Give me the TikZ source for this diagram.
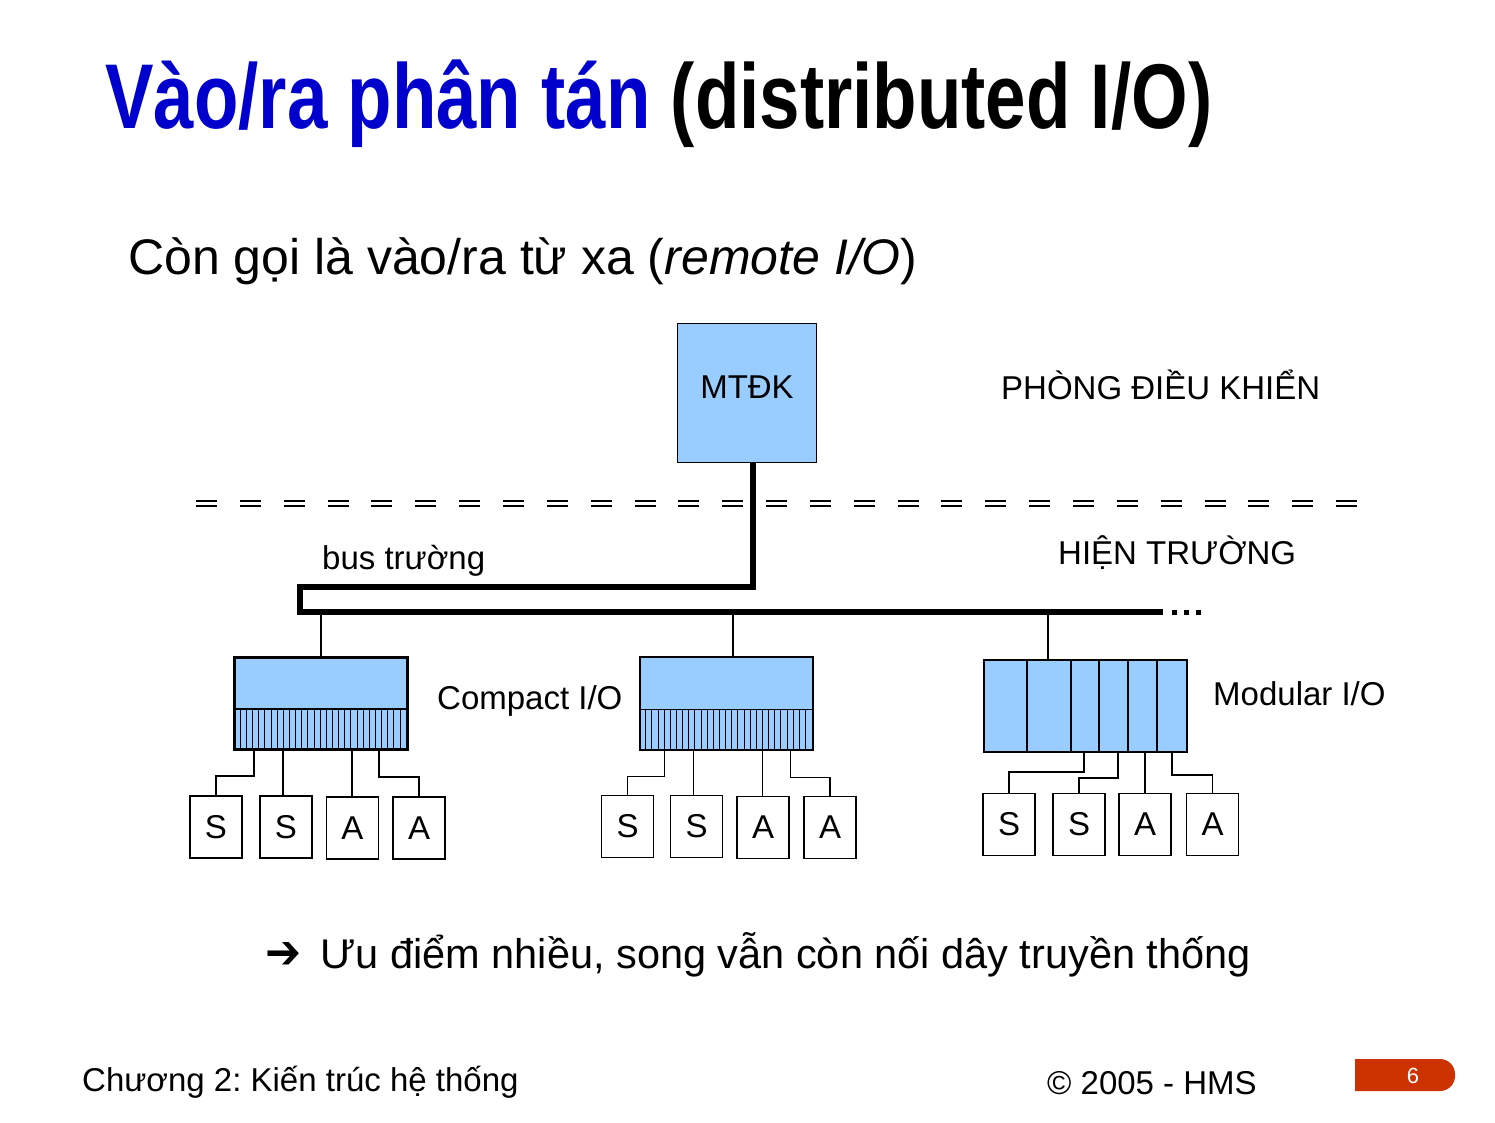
\documentclass[tikz,border=0pt]{standalone}
\usepackage{fontspec}
\usepackage{graphicx}
\setmainfont{Liberation Sans}
\newfontfamily\dejavu{DejaVu Sans}
\newcommand{\myfs}[1]{\fontsize{#1}{#1}\selectfont}
\definecolor{boxblue}{HTML}{99CCFF}
\definecolor{titleblue}{HTML}{0000CC}
\definecolor{badgered}{HTML}{CC3300}
\frenchspacing
\begin{document}
\begin{tikzpicture}[x=1pt,y=-1pt,
  lbl/.style={inner sep=0pt, font={\myfs{33}}},
  sabox/.style={draw, line width=1.3pt, minimum width=52pt, minimum height=62pt, inner sep=0pt, font={\myfs{33}}},
  iobox/.style={draw, line width=1.8pt, fill=boxblue, inner sep=0pt},
  busline/.style={line width=6pt},
  dropline/.style={line width=2.5pt},
  wire/.style={line width=1.3pt},
  sepline/.style={line width=2pt, dash pattern=on 21pt off 22.85pt},
]
\useasboundingbox (0,0) rectangle (1495,1122);

% title
\node[anchor=base west, inner sep=0pt] (title) at (105,128)
  {\resizebox{1107pt}{\height}{\myfs{92}\bfseries{\color{titleblue}Vào/ra phân tán} (distributed I/O)}};

\node[anchor=base west, inner sep=0pt] (sub) at (128,274)
  {\myfs{50}Còn gọi là vào/ra từ xa (\textit{remote I/O})};

% controller
\node[iobox, line width=1.5pt, minimum width=139pt, minimum height=139pt] (mt) at (747,393) {};
\node[lbl] (mtl) at (747,387.5) {MTĐK};
\node[lbl, anchor=base west] (phong) at (1001,399) {PHÒNG ĐIỀU KHIỂN};

% separator
\coordinate (dl) at (196,500.5);
\coordinate (dr) at (1360,500.5);
\draw[sepline] (dl) -- (dr);
\draw[sepline] ([yshift=-5.5pt]dl) -- ([yshift=-5.5pt]dr);

% field bus
\coordinate (k1) at (753,587);
\coordinate (k2) at (300,587);
\coordinate (k3) at (300,612);
\coordinate (bend) at (1163,612);
\coordinate (dotend) at (1203,612);

\node[lbl, anchor=base west] (busl) at (322,569) {bus trường};
\node[lbl, anchor=base west] (hien) at (1058,564) {HIỆN TRƯỜNG};

% I/O boxes
\node[iobox, minimum width=172pt, minimum height=91pt] (c1) at (321,703.5) {};
\node[iobox, minimum width=172pt, minimum height=92pt] (c2) at (726.5,703.5) {};
\node[iobox, minimum width=203pt, minimum height=92pt] (mod) at (1085.5,706) {};

\foreach \n in {c1,c2} {
  \foreach \i in {1,...,27}
    \draw[line width=0.9pt] ([xshift=\i*6.143pt]\n.south west) -- ([xshift=\i*6.143pt, yshift=41pt]\n.south west);
  \draw[line width=1.8pt] ([yshift=41pt]\n.south west) -- ([yshift=41pt]\n.south east);
  \draw[line width=1.8pt] (\n.north west) rectangle (\n.south east);
}
\foreach \d in {44,88,116,145,174}
  \draw[line width=1.8pt] ([xshift=\d pt]mod.north west) -- ([xshift=\d pt]mod.south west);

\node[lbl, anchor=base west] (cl) at (437,709) {Compact I/O};
\node[lbl, anchor=base west] (ml) at (1213,705) {Modular I/O};

% drops and bus
\draw[dropline] (c1.north) -- (c1.north |- k3);
\draw[dropline] ([xshift=6.5pt]c2.north) -- ([xshift=6.5pt]c2.north |- k3);
\draw[dropline] ([xshift=-37.5pt]mod.north) -- ([xshift=-37.5pt]mod.north |- k3);
\draw[busline] ([xshift=6pt]mt.south) -- (k1) -- (k2) -- (k3) -- (bend);
\draw[line width=5pt, dash pattern=on 5pt off 7pt] ([xshift=9pt]bend) -- (dotend);

% sensors / actuators group 1
\node[sabox] (g1s1) at (216,827) {S};
\node[sabox] (g1s2) at (286,827) {S};
\node[sabox] (g1a1) at (352.5,828) {A};
\node[sabox] (g1a2) at (419,828) {A};
% group 2
\node[sabox] (g2s1) at (627.5,826.5) {S};
\node[sabox] (g2s2) at (696.5,826.5) {S};
\node[sabox] (g2a1) at (763,827.5) {A};
\node[sabox] (g2a2) at (830,827.5) {A};
% group 3
\node[sabox] (g3s1) at (1009,824.5) {S};
\node[sabox] (g3s2) at (1079,824.5) {S};
\node[sabox] (g3a1) at (1145,824.5) {A};
\node[sabox] (g3a2) at (1212.5,824.5) {A};

% wires group 1
\draw[wire] ([xshift=20pt]c1.south west) -- ++(0,26) -| (g1s1.north);
\draw[wire] ([xshift=49pt]c1.south west) -- ([xshift=49pt]c1.south west |- g1s2.north);
\draw[wire] ([xshift=118pt]c1.south west) -- ([xshift=118pt]c1.south west |- g1a1.north);
\draw[wire] ([xshift=145pt]c1.south west) -- ++(0,27) -| (g1a2.north);
% wires group 2
\draw[wire] ([xshift=25pt]c2.south west) -- ++(0,26) -| (g2s1.north);
\draw[wire] ([xshift=54pt]c2.south west) -- ([xshift=54pt]c2.south west |- g2s2.north);
\draw[wire] ([xshift=123pt]c2.south west) -- ([xshift=123pt]c2.south west |- g2a1.north);
\draw[wire] ([xshift=151pt]c2.south west) -- ++(0,27) -| (g2a2.north);
% wires group 3
\draw[wire] ([xshift=101pt]mod.south west) -- ++(0,19) -| (g3s1.north);
\draw[wire] ([xshift=135pt]mod.south west) -- ++(0,25) -| (g3s2.north);
\draw[wire] ([xshift=162pt]mod.south west) -- ([xshift=162pt]mod.south west |- g3a1.north);
\draw[wire] ([xshift=189pt]mod.south west) -- ++(0,22) -| (g3a2.north);

% conclusion
\node[inner sep=0pt] (arr) at (283,955) {\resizebox{36pt}{26pt}{\dejavu\bfseries\myfs{40}➔}};
\node[anchor=base west, inner sep=0pt] (adv) at (320,968)
  {\myfs{41.5}Ưu điểm nhiều, song vẫn còn nối dây truyền thống};

% footer
\node[anchor=base west, inner sep=0pt] (ch) at (82,1091) {\myfs{33}Chương 2: Kiến trúc hệ thống};
\node[anchor=base west, inner sep=0pt] (copy) at (1047,1094) {\myfs{33}© 2005 - HMS};
\fill[badgered] (1355,1059) [rounded corners=15pt] -- (1455,1059) -- (1455,1091) [sharp corners] -- (1355,1091) -- cycle;
\node[text=white, inner sep=0pt, font={\myfs{22}}] (pg) at (1413,1076) {6};
\end{tikzpicture}
\end{document}
